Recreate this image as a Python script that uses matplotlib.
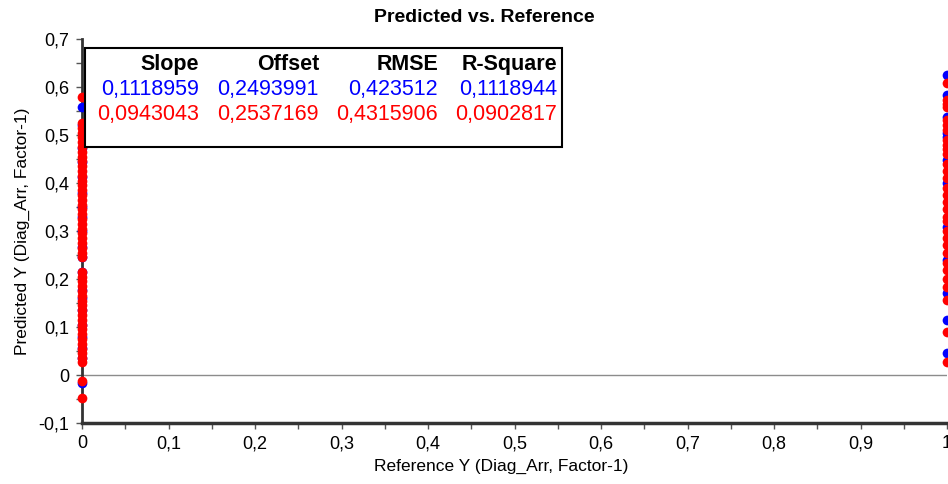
import matplotlib
matplotlib.use("Agg")
import matplotlib.pyplot as plt
from matplotlib.patches import Rectangle
from matplotlib.ticker import MultipleLocator, FuncFormatter

plt.rcParams['font.family'] = ['Liberation Sans', 'DejaVu Sans']

# predicted values at reference 0 and 1 (blue = first model, red = second)
blue_at0 = [0.558, 0.52, 0.473, 0.444, 0.413, 0.38, 0.35, 0.33, 0.30, 0.267,
            0.245, 0.215, 0.177, 0.16, 0.135, 0.104, 0.08, 0.056, 0.035, -0.017]
red_at0 = [0.579, 0.525, 0.515, 0.505, 0.495, 0.485, 0.475, 0.465, 0.455, 0.445,
           0.435, 0.425, 0.415, 0.405, 0.395, 0.385, 0.375, 0.365, 0.355, 0.345,
           0.335, 0.325, 0.315, 0.305, 0.295, 0.285, 0.275, 0.265, 0.255, 0.245,
           0.215, 0.205, 0.195, 0.185, 0.175, 0.165, 0.155, 0.145, 0.135, 0.125,
           0.115, 0.105, 0.095, 0.085, 0.075, 0.065, 0.055, 0.045, 0.035, 0.027,
           -0.012, -0.047]
blue_at1 = [0.625, 0.583, 0.538, 0.504, 0.496, 0.448, 0.40, 0.308, 0.24,
            0.171, 0.115, 0.046]
red_at1 = [0.608, 0.573, 0.565, 0.558, 0.531, 0.52, 0.51, 0.49, 0.48, 0.47,
           0.46, 0.44, 0.425, 0.41, 0.39, 0.375, 0.36, 0.345, 0.33, 0.32,
           0.30, 0.285, 0.27, 0.254, 0.233, 0.218, 0.20, 0.183, 0.156,
           0.09, 0.027]

headers = ['Slope', 'Offset', 'RMSE', 'R-Square']
blue_stats = ['0,1118959', '0,2493991', '0,423512', '0,1118944']
red_stats = ['0,0943043', '0,2537169', '0,4315906', '0,0902817']

W, H = 948, 484
fig = plt.figure(figsize=(W / 100, H / 100), dpi=100)
ax = fig.add_axes([82 / W, 61 / H, 865 / W, 384 / H])
ax.set_xlim(0, 1)
ax.set_ylim(-0.1, 0.7)

ax.axhline(0, color='#8c8c8c', lw=1, zorder=1)

ax.plot([0] * len(blue_at0), blue_at0, 'o', color='#0000ff', ms=7, mew=0,
        zorder=3, clip_on=False)
ax.plot([1] * len(blue_at1), blue_at1, 'o', color='#0000ff', ms=7, mew=0,
        zorder=3, clip_on=False)
ax.plot([0] * len(red_at0), red_at0, 'o', color='#ff0000', ms=7, mew=0,
        zorder=4, clip_on=False)
ax.plot([1] * len(red_at1), red_at1, 'o', color='#ff0000', ms=7, mew=0,
        zorder=4, clip_on=False)

for s in ['top', 'right']:
    ax.spines[s].set_visible(False)
ax.spines['left'].set_linewidth(2)
ax.spines['left'].set_color('#333333')
ax.spines['bottom'].set_linewidth(2.5)
ax.spines['bottom'].set_color('#333333')
ax.spines['left'].set_zorder(2)


def fmt(v, pos):
    if abs(v) < 1e-9:
        return '0'
    if abs(v - 1) < 1e-9:
        return '1'
    return ('%.1f' % v).replace('.', ',')


ax.xaxis.set_major_locator(MultipleLocator(0.1))
ax.xaxis.set_minor_locator(MultipleLocator(0.05))
ax.yaxis.set_major_locator(MultipleLocator(0.1))
ax.yaxis.set_minor_locator(MultipleLocator(0.05))
ax.xaxis.set_major_formatter(FuncFormatter(fmt))
ax.yaxis.set_major_formatter(FuncFormatter(fmt))
ax.tick_params(which='both', direction='out', length=4, width=1, color='#555555',
               labelsize=13)
ax.tick_params(axis='y', pad=5)
ax.tick_params(axis='x', pad=5)

ax.set_xlabel('Reference Y (Diag_Arr, Factor-1)', fontsize=12.5)
ax.xaxis.set_label_coords((501 - 82) / 865, -(466 - 423) / 384)
ax.xaxis.label.set_va('center')
ax.set_ylabel('Predicted Y (Diag_Arr, Factor-1)', fontsize=12.5, labelpad=6)
fig.text(484 / W, 1 - 17 / H, 'Predicted vs. Reference', ha='center', va='center',
         fontsize=14, fontweight='bold')

# stats box
tr = ax.transAxes
x0 = 3 / 865
y_top = (423 - 48) / 384
y_bot = (423 - 147) / 384
ax.add_patch(Rectangle((x0, y_bot), (562 - 82) / 865 - x0, y_top - y_bot, transform=tr,
                       facecolor='white', edgecolor='black', lw=1.5, zorder=5,
                       clip_on=False))
col_x = [199, 319, 438, 557]
row_base = [70, 95, 120]
for i in range(4):
    xa = (col_x[i] - 82) / 865
    for j, (txt, c, w) in enumerate([(headers[i], 'black', 'bold'),
                                     (blue_stats[i], '#0000ff', 'normal'),
                                     (red_stats[i], '#ff0000', 'normal')]):
        ya = (423 - row_base[j]) / 384
        ax.text(xa, ya, txt, transform=tr, ha='right', va='baseline', color=c,
                fontweight=w, fontsize=15.5, zorder=6)

fig.savefig('out.png', dpi=100)
